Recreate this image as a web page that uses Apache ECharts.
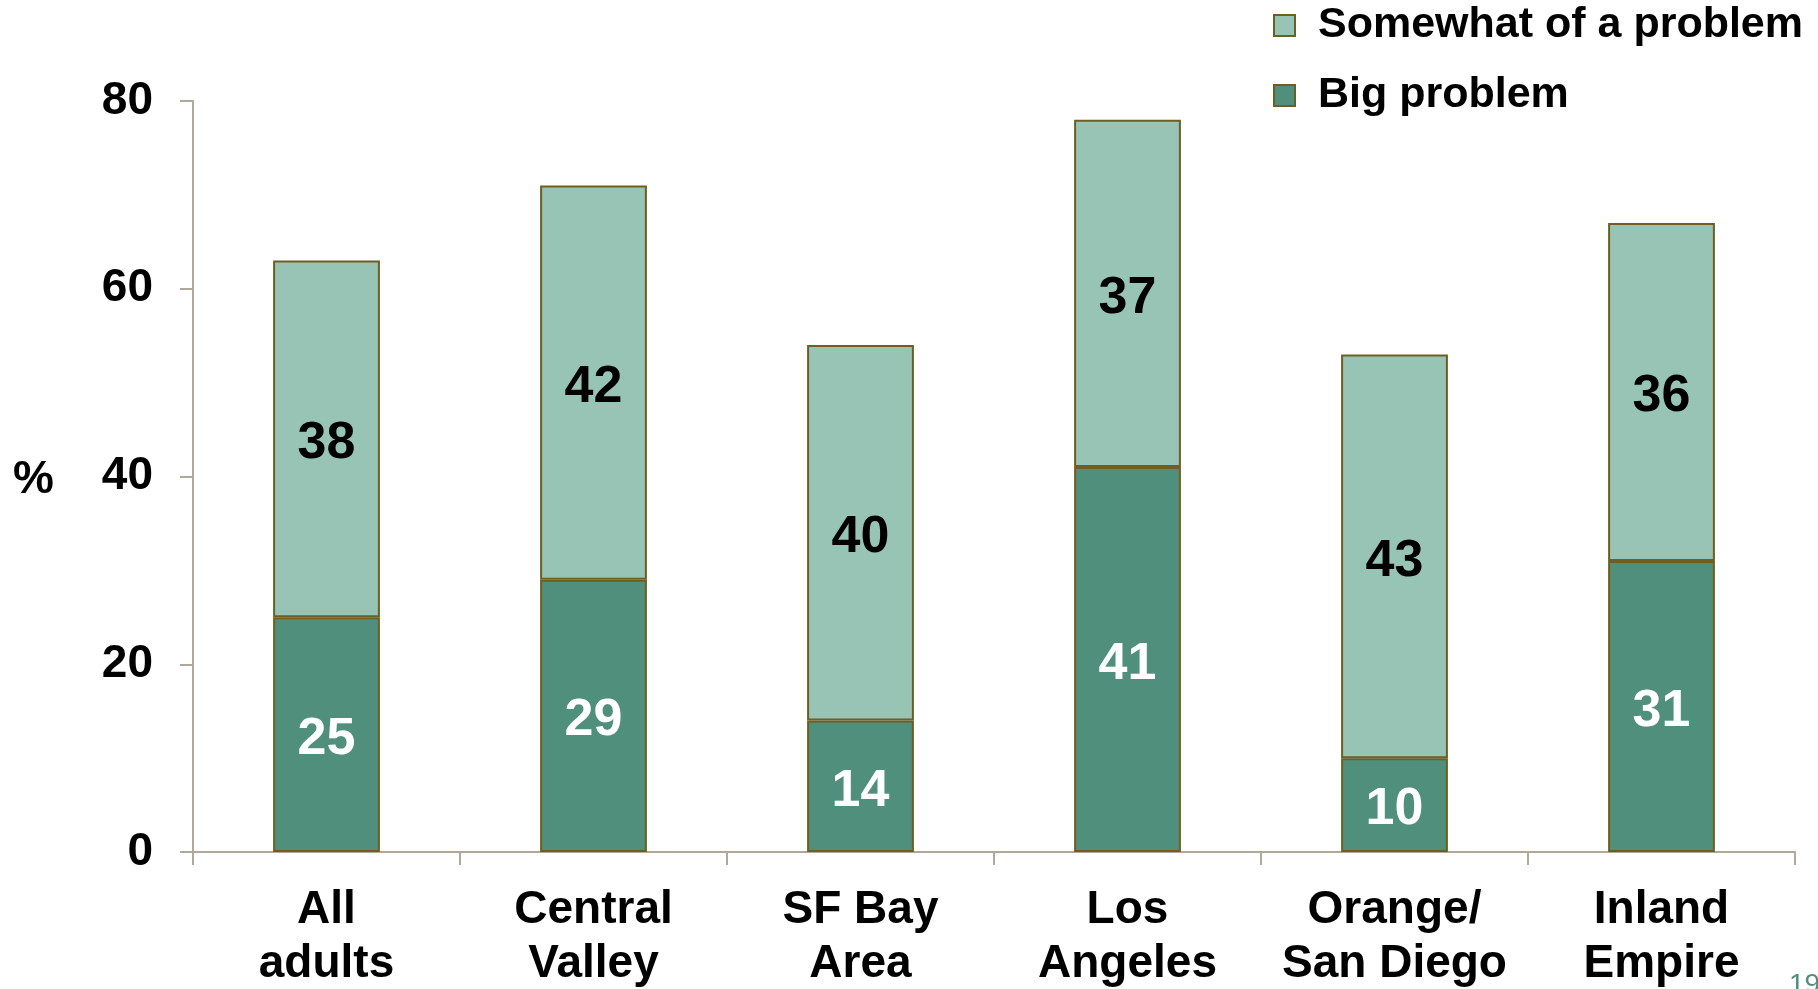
<!DOCTYPE html>
<html>
<head>
<meta charset="utf-8">
<script src="https://cdn.jsdelivr.net/npm/echarts@6/dist/echarts.min.js"></script>
<style>
  html, body { margin: 0; padding: 0; background: #fff; }
  #myChart { width: 1818px; height: 989px; }
</style>
</head>
<body>
<div id="myChart"></div>
<script>
// chart data
var categories = ['All\nadults', 'Central\nValley', 'SF Bay\nArea', 'Los\nAngeles', 'Orange/\nSan Diego', 'Inland\nEmpire']
var bigProblem = [25, 29, 14, 41, 10, 31]
var somewhatProblem = [38, 42, 40, 37, 43, 36]
var yTicks = [0, 20, 40, 60, 80]

var font = '"Liberation Sans", Arial, sans-serif'
var axisColor = '#B0A898'
var edgeColor = '#6E5E22'

var chart = echarts.init(document.getElementById('myChart'))
chart.setOption({
  animation: false,
  textStyle: { fontFamily: font },
  grid: {
    left: 193,
    right: 23,
    top: 101,
    bottom: 137,
    containLabel: false,
    outerBoundsMode: 'none'
  },
  legend: {
    orient: 'vertical',
    left: 1273,
    top: 4,
    padding: 0,
    icon: 'rect',
    itemWidth: 21,
    itemHeight: 21,
    itemGap: 27,
    data: ['Somewhat of a problem', 'Big problem'],
    textStyle: {
      fontFamily: font,
      fontWeight: 'bold',
      fontSize: 43,
      color: '#000',
      padding: [0, 0, 0, 18]
    }
  },
  graphic: [
    {
      type: 'text',
      left: 13,
      top: 457,
      style: { text: '%', font: 'bold 46px ' + font, fill: '#000' }
    },
    {
      type: 'text',
      left: 1789,
      top: 971,
      style: { text: '19', font: '28px ' + font, fill: '#4F8F7C' }
    }
  ],
  xAxis: {
    type: 'category',
    data: categories,
    axisLine: { lineStyle: { color: axisColor, width: 2 } },
    axisTick: { show: true, interval: 0, length: 13, lineStyle: { color: axisColor, width: 2 } },
    axisLabel: {
      interval: 0,
      margin: 31,
      color: '#000',
      fontFamily: font,
      fontWeight: 'bold',
      fontSize: 46,
      lineHeight: 54
    }
  },
  yAxis: {
    type: 'value',
    min: yTicks[0],
    max: yTicks[yTicks.length - 1],
    interval: 20,
    splitLine: { show: false },
    axisLine: { show: true, lineStyle: { color: axisColor, width: 2 } },
    axisTick: { show: true, length: 13, lineStyle: { color: axisColor, width: 2 } },
    axisLabel: {
      margin: 40,
      padding: [4, 0, 0, 0],
      color: '#000',
      fontFamily: font,
      fontWeight: 'bold',
      fontSize: 46
    }
  },
  series: [
    {
      name: 'Big problem',
      type: 'bar',
      stack: 'total',
      barWidth: '40%',
      data: bigProblem,
      itemStyle: { color: '#4F8F7C', borderColor: edgeColor, borderWidth: 2 },
      label: {
        show: true,
        position: 'inside',
        offset: [0, 5],
        color: '#fff',
        fontFamily: font,
        fontWeight: 'bold',
        fontSize: 52
      }
    },
    {
      name: 'Somewhat of a problem',
      type: 'bar',
      stack: 'total',
      barWidth: '40%',
      data: somewhatProblem,
      itemStyle: { color: '#98C4B5', borderColor: edgeColor, borderWidth: 2 },
      label: {
        show: true,
        position: 'inside',
        offset: [0, 5],
        color: '#000',
        fontFamily: font,
        fontWeight: 'bold',
        fontSize: 52
      }
    }
  ]
})
</script>
</body>
</html>
